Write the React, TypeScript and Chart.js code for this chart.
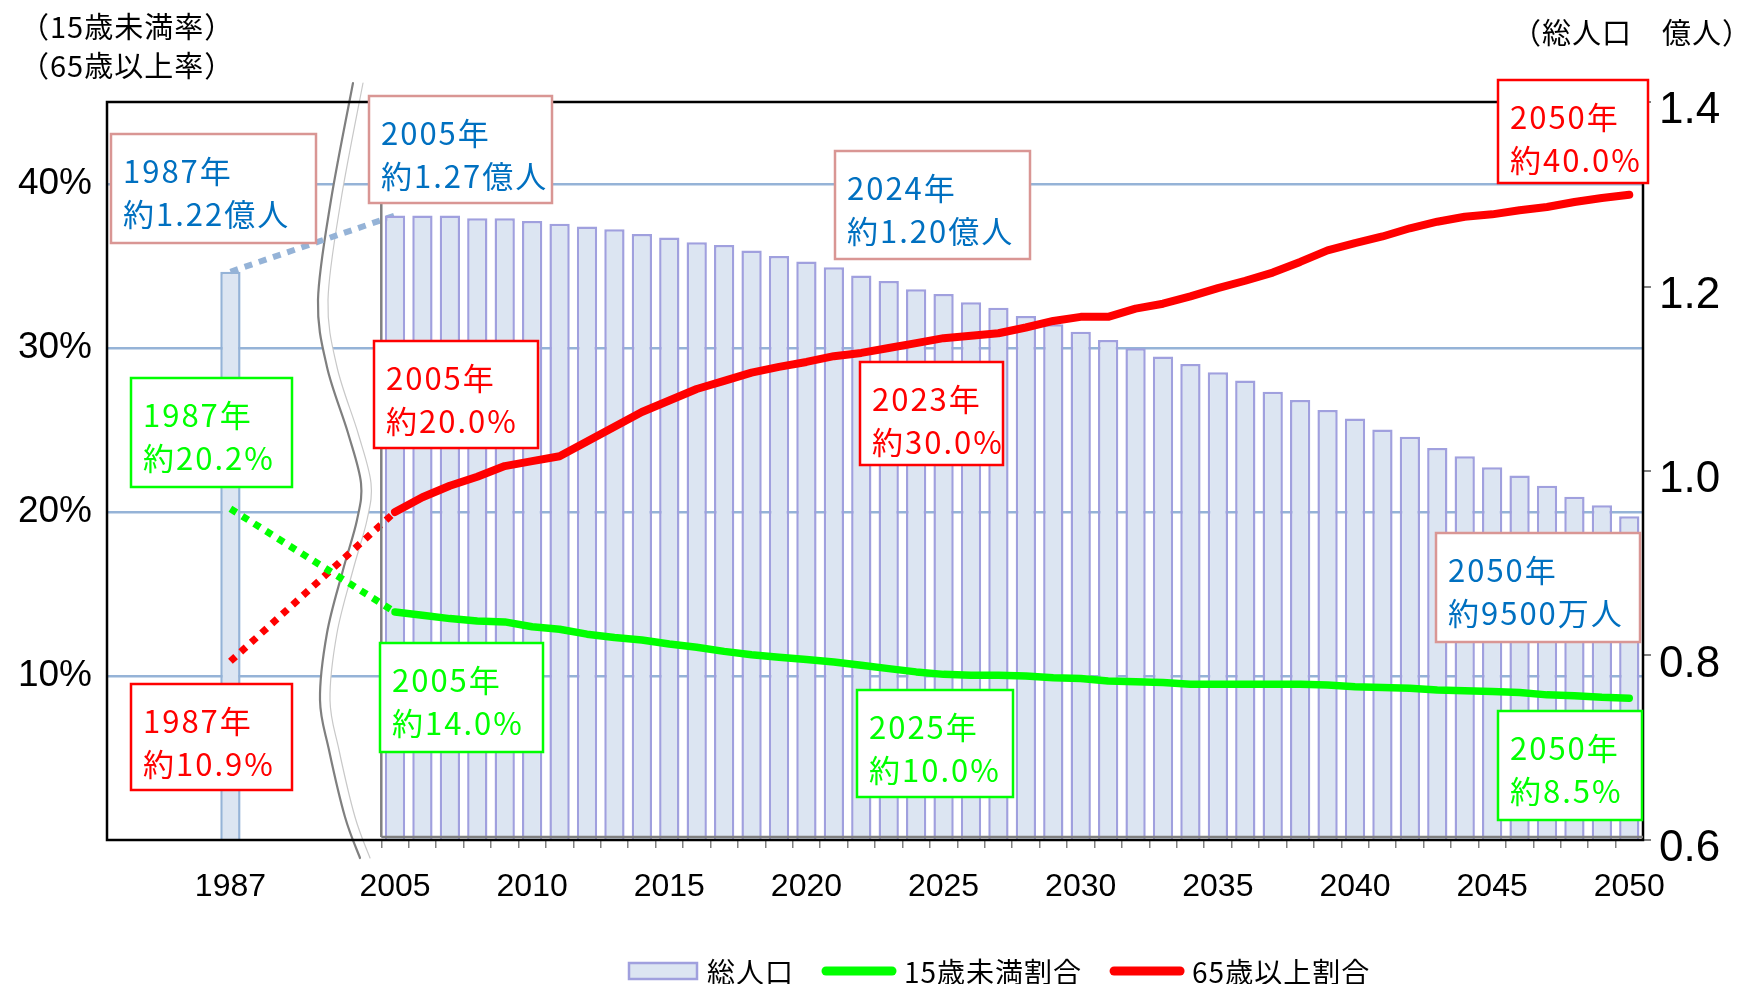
import React, { useEffect, useRef } from "react";
import { Chart, registerables } from "chart.js";

Chart.register(...registerables);

// ---------------- data ----------------
const leadSlots = ["", "", "", ""];
const baseYear = "1987";
const gapSlots = ["", "", "", "", ""];
const years = [
  "2005", "2006", "2007", "2008", "2009", "2010", "2011", "2012", "2013", "2014",
  "2015", "2016", "2017", "2018", "2019", "2020", "2021", "2022", "2023", "2024",
  "2025", "2026", "2027", "2028", "2029", "2030", "2031", "2032", "2033", "2034",
  "2035", "2036", "2037", "2038", "2039", "2040", "2041", "2042", "2043", "2044",
  "2045", "2046", "2047", "2048", "2049", "2050",
];
const xTickLabels = ["1987", "2005", "2010", "2015", "2020", "2025", "2030", "2035", "2040", "2045", "2050"];

// total population (100 million people)
const population1987 = 1.216;
const population = [
  1.277, 1.277, 1.277, 1.274, 1.274, 1.271, 1.268, 1.265, 1.262, 1.257,
  1.253, 1.248, 1.245, 1.239, 1.233, 1.227, 1.221, 1.212, 1.206, 1.197,
  1.192, 1.183, 1.177, 1.168, 1.159, 1.151, 1.142, 1.133, 1.124, 1.116,
  1.107, 1.098, 1.086, 1.077, 1.066, 1.057, 1.045, 1.037, 1.025, 1.016,
  1.004, 0.995, 0.984, 0.972, 0.963, 0.951,
];
// share under 15 (%)
const under15Rate1987 = 20.2;
const under15Rate = [
  13.9, 13.7, 13.5, 13.35, 13.3, 13.0, 12.85, 12.55, 12.35, 12.2,
  11.95, 11.75, 11.5, 11.3, 11.15, 11.0, 10.85, 10.65, 10.45, 10.25,
  10.1, 10.05, 10.05, 10.0, 9.9, 9.85, 9.7, 9.65, 9.6, 9.5,
  9.5, 9.5, 9.5, 9.5, 9.45, 9.35, 9.3, 9.25, 9.15, 9.1,
  9.05, 9.0, 8.85, 8.8, 8.7, 8.65,
];
// share 65 and over (%)
const over65Rate1987 = 10.9;
const over65Rate = [
  20.0, 20.9, 21.6, 22.15, 22.8, 23.1, 23.4, 24.3, 25.2, 26.1,
  26.8, 27.5, 28.0, 28.5, 28.85, 29.15, 29.5, 29.7, 30.0, 30.3,
  30.6, 30.75, 30.9, 31.25, 31.65, 31.9, 31.9, 32.4, 32.7, 33.15,
  33.65, 34.1, 34.6, 35.25, 35.95, 36.4, 36.8, 37.3, 37.7, 38.0,
  38.15, 38.4, 38.6, 38.9, 39.15, 39.35,
];

const leftTickValues = [10, 20, 30, 40];
const rightTickValues = [0.6, 0.8, 1.0, 1.2, 1.4];

const seriesNames = ["総人口", "15歳未満割合", "65歳以上割合"];
const leftAxisTitle = ["（15歳未満率）", "（65歳以上率）"];
const rightAxisTitle = "（総人口　億人）";

const callouts = [
  { lines: ["1987年", "約1.22億人"], tone: "pop", box: [111, 134, 316, 243] },
  { lines: ["2005年", "約1.27億人"], tone: "pop", box: [369, 96, 552, 203] },
  { lines: ["2024年", "約1.20億人"], tone: "pop", box: [835, 151, 1030, 259] },
  { lines: ["2050年", "約40.0%"], tone: "old", box: [1498, 80, 1648, 183] },
  { lines: ["2005年", "約20.0%"], tone: "old", box: [374, 341, 538, 448] },
  { lines: ["2023年", "約30.0%"], tone: "old", box: [860, 362, 1003, 465] },
  { lines: ["1987年", "約20.2%"], tone: "young", box: [131, 378, 292, 487] },
  { lines: ["1987年", "約10.9%"], tone: "old", box: [131, 684, 292, 790] },
  { lines: ["2005年", "約14.0%"], tone: "young", box: [380, 643, 543, 752] },
  { lines: ["2025年", "約10.0%"], tone: "young", box: [857, 690, 1013, 797] },
  { lines: ["2050年", "約9500万人"], tone: "pop", box: [1436, 533, 1640, 642] },
  { lines: ["2050年", "約8.5%"], tone: "young", box: [1498, 711, 1642, 820] },
];

// ---------------- styles ----------------
const BAR_FILL = "rgb(220,229,242)";
const BAR_EDGE = "rgb(160,160,222)";
const BAR_EDGE_OLD = "rgb(149,179,215)";
const GRID = "rgb(149,179,215)";
const RED = "#FF0000";
const GREEN = "#00FF00";
const BLUE_TEXT = "#0070C0";
const ROSE = "#D99694";
const CJK = '"Noto Sans CJK JP", "Noto Sans", sans-serif';
const LATIN = '"Liberation Sans", Arial, sans-serif';

const toneStyle: Record<string, { text: string; edge: string }> = {
  pop: { text: BLUE_TEXT, edge: ROSE },
  old: { text: RED, edge: RED },
  young: { text: GREEN, edge: GREEN },
};

const labels = [...leadSlots, baseYear, ...gapSlots, ...years];
const firstYearIndex = leadSlots.length + 1 + gapSlots.length;
const padSeries = (v1987: number | null, arr: (number | null)[]) => [
  ...leadSlots.map(() => null),
  v1987,
  ...gapSlots.map(() => null),
  ...arr,
];

const wavePts: [number, number][] = [
  [353, 83], [331, 200], [318, 300], [327, 367], [348, 433], [361, 483], [357, 520],
  [343, 570], [327, 633], [320, 700], [329, 750], [345, 817], [360, 858],
];

function smoothPath(ctx: CanvasRenderingContext2D, pts: [number, number][], dx: number) {
  ctx.beginPath();
  ctx.moveTo(pts[0][0] + dx, pts[0][1]);
  for (let i = 0; i < pts.length - 1; i++) {
    const p0 = pts[i - 1] || pts[i];
    const p1 = pts[i];
    const p2 = pts[i + 1];
    const p3 = pts[i + 2] || p2;
    ctx.bezierCurveTo(
      p1[0] + (p2[0] - p0[0]) / 6 + dx, p1[1] + (p2[1] - p0[1]) / 6,
      p2[0] - (p3[0] - p1[0]) / 6 + dx, p2[1] - (p3[1] - p1[1]) / 6,
      p2[0] + dx, p2[1]
    );
  }
}

const decorPlugin = {
  id: "decor",
  beforeDatasetsDraw(chart: any) {
    const ctx = chart.ctx as CanvasRenderingContext2D;
    ctx.save();
    ctx.lineCap = "round";
    smoothPath(ctx, wavePts, 5);
    ctx.strokeStyle = "#ffffff";
    ctx.lineWidth = 10;
    ctx.stroke();
    smoothPath(ctx, wavePts, 0);
    ctx.strokeStyle = "#7F7F7F";
    ctx.lineWidth = 2.2;
    ctx.stroke();
    smoothPath(ctx, wavePts, 10);
    ctx.strokeStyle = "#C8C8C8";
    ctx.lineWidth = 1.2;
    ctx.stroke();
    ctx.restore();
  },
  afterDatasetsDraw(chart: any) {
    const ctx = chart.ctx as CanvasRenderingContext2D;
    const { left, right, top, bottom } = chart.chartArea;
    const xs = chart.scales.x;
    const w = (xs.right - xs.left) / labels.length;
    const edge = xs.left + firstYearIndex * w;
    ctx.save();
    ctx.strokeStyle = "#000";
    ctx.lineWidth = 2.5;
    ctx.strokeRect(left, top, right - left, bottom - top);
    ctx.strokeStyle = "#808080";
    ctx.lineWidth = 2.5;
    ctx.beginPath();
    ctx.moveTo(edge, top);
    ctx.lineTo(edge, bottom - 3);
    ctx.moveTo(edge, bottom - 3);
    ctx.lineTo(right, bottom - 3);
    ctx.stroke();
    ctx.restore();
  },
  afterDraw(chart: any) {
    const ctx = chart.ctx as CanvasRenderingContext2D;
    ctx.save();
    // callouts
    for (const c of callouts) {
      const st = toneStyle[c.tone];
      const [x1, y1, x2, y2] = c.box;
      ctx.fillStyle = "#fff";
      ctx.fillRect(x1, y1, x2 - x1, y2 - y1);
      ctx.strokeStyle = st.edge;
      ctx.lineWidth = 2.5;
      ctx.strokeRect(x1, y1, x2 - x1, y2 - y1);
      ctx.fillStyle = st.text;
      ctx.font = `31px ${CJK}`;
      (ctx as any).letterSpacing = "2px";
      ctx.textBaseline = "middle";
      ctx.textAlign = "left";
      ctx.fillText(c.lines[0], x1 + 12, y1 + 37);
      ctx.fillText(c.lines[1], x1 + 12, y1 + 80);
    }
    // axis titles
    (ctx as any).letterSpacing = "1px";
    ctx.fillStyle = "#000";
    ctx.font = `29px ${CJK}`;
    ctx.textAlign = "left";
    ctx.fillText(leftAxisTitle[0], 20, 27);
    ctx.fillText(leftAxisTitle[1], 20, 66);
    ctx.textAlign = "right";
    ctx.fillText(rightAxisTitle, 1752, 33);
    // legend
    const ly = 971;
    let lx = 629;
    ctx.textAlign = "left";
    ctx.font = `28px ${CJK}`;
    (ctx as any).letterSpacing = "1px";
    const ds = seriesNames
      .map((n) => chart.data.datasets.find((d: any) => d.label === n))
      .filter(Boolean);
    for (const d of ds) {
      if (d.type === "bar") {
        ctx.fillStyle = BAR_FILL;
        ctx.fillRect(lx, ly - 8, 68, 16);
        ctx.strokeStyle = BAR_EDGE;
        ctx.lineWidth = 2.5;
        ctx.strokeRect(lx, ly - 8, 68, 16);
        lx += 68 + 10;
      } else {
        ctx.strokeStyle = d.borderColor;
        ctx.lineWidth = 9;
        ctx.lineCap = "round";
        ctx.beginPath();
        ctx.moveTo(lx + 4, ly);
        ctx.lineTo(lx + 70, ly);
        ctx.stroke();
        lx += 74 + 8;
      }
      ctx.fillStyle = "#000";
      ctx.fillText(d.label, lx, ly + 1);
      lx += ctx.measureText(d.label).width + 28;
    }
    ctx.restore();
  },
};

export default function App() {
  const ref = useRef<HTMLCanvasElement | null>(null);
  useEffect(() => {
    document.body.style.margin = "0";
    document.body.style.overflow = "hidden";
    const canvas = ref.current!;
    const isGap = (c: any) => !!(c.p0 && c.p0.skip) || !!(c.p1 && c.p1.skip);
    const lineSegment = {
      borderDash: (c: any) => (isGap(c) ? [7, 7] : undefined),
      borderWidth: (c: any) => (isGap(c) ? 7 : undefined),
      borderCapStyle: (c: any) => (isGap(c) ? "butt" : undefined),
    };
    const chart = new Chart(canvas, {
      type: "bar",
      data: {
        labels,
        datasets: [
          {
            type: "line",
            label: seriesNames[1],
            data: padSeries(under15Rate1987, under15Rate),
            yAxisID: "y",
            borderColor: GREEN,
            borderWidth: 7.5,
            borderCapStyle: "round",
            borderJoinStyle: "round",
            pointRadius: 0,
            spanGaps: true,
            tension: 0,
            order: 1,
            segment: lineSegment,
          } as any,
          {
            type: "line",
            label: seriesNames[2],
            data: padSeries(over65Rate1987, over65Rate),
            yAxisID: "y",
            borderColor: RED,
            borderWidth: 8,
            borderCapStyle: "round",
            borderJoinStyle: "round",
            pointRadius: 0,
            spanGaps: true,
            tension: 0,
            order: 1,
            segment: lineSegment,
          } as any,
          {
            type: "bar",
            label: seriesNames[0],
            data: padSeries(population1987, population),
            yAxisID: "y2",
            backgroundColor: BAR_FILL,
            borderColor: labels.map((l) => (l === baseYear ? BAR_EDGE_OLD : BAR_EDGE)),
            borderWidth: 2.5,
            categoryPercentage: 1,
            barPercentage: 0.74,
            order: 2,
          } as any,
          {
            type: "line",
            label: "link",
            data: padSeries(population1987, population.map((v, i) => (i === 0 ? v : null))),
            yAxisID: "y2",
            borderColor: GRID,
            borderWidth: 6,
            borderDash: [8, 7],
            borderCapStyle: "butt",
            pointRadius: 0,
            spanGaps: true,
            order: 3,
          } as any,
        ],
      },
      options: {
        responsive: false,
        devicePixelRatio: 1,
        animation: false,
        layout: { padding: { top: 102, left: 0, right: 0, bottom: 0 } },
        plugins: { legend: { display: false }, tooltip: { enabled: false } },
        scales: {
          x: {
            type: "category",
            offset: true,
            afterFit: (s: any) => {
              s.height = 144;
            },
            border: { display: false },
            grid: {
              offset: true,
              drawOnChartArea: false,
              drawTicks: true,
              tickLength: 8,
              lineWidth: 1.5,
              color: (c: any) => (c.index >= firstYearIndex ? "#808080" : "rgba(0,0,0,0)"),
            },
            ticks: {
              autoSkip: false,
              maxRotation: 0,
              minRotation: 0,
              padding: 20,
              color: "#000",
              font: { family: LATIN, size: 32 },
              callback: (_v: any, i: number) => (xTickLabels.includes(labels[i]) ? labels[i] : ""),
            },
          },
          y: {
            type: "linear",
            position: "left",
            min: 0,
            max: 45,
            afterFit: (s: any) => {
              s.width = 107;
            },
            afterBuildTicks: (s: any) => {
              s.ticks = leftTickValues.map((v) => ({ value: v }));
            },
            border: { display: false },
            grid: { color: GRID, lineWidth: 2.5, drawTicks: false },
            ticks: {
              padding: 15,
              color: "#000",
              font: { family: LATIN, size: 37 },
              callback: (v: any) => `${v}%`,
            },
          },
          y2: {
            type: "linear",
            position: "right",
            min: 0.6,
            max: 1.4,
            afterFit: (s: any) => {
              s.width = 97;
            },
            afterBuildTicks: (s: any) => {
              s.ticks = rightTickValues.map((v) => ({ value: v }));
            },
            border: { display: false },
            grid: { drawOnChartArea: false, drawTicks: true, tickLength: 8, color: "#808080", lineWidth: 2 },
            ticks: {
              padding: 8,
              labelOffset: 9,
              color: "#000",
              font: { family: LATIN, size: 44 },
              callback: (v: any) => Number(v).toFixed(1),
            },
          },
        },
      },
      plugins: [decorPlugin],
    });
    return () => chart.destroy();
  }, []);
  return (
    <div style={{ width: 1740, height: 984, position: "relative" }}>
      <canvas ref={ref} width={1740} height={984} style={{ display: "block", width: 1740, height: 984 }} />
    </div>
  );
}
